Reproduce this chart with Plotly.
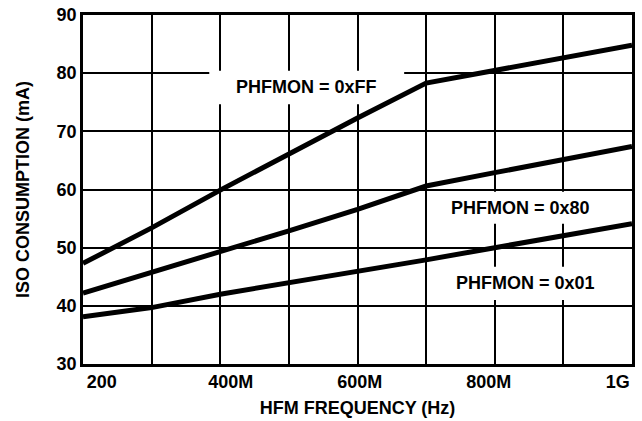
import plotly.graph_objects as go

# ---- data ----
freq_mhz = [200, 300, 400, 500, 600, 700, 800, 900, 1000]
iso_0xff = [47.3, 53.4, 59.9, 66.2, 72.3, 78.3, 80.5, 82.7, 84.8]
iso_0x80 = [42.2, 45.7, 49.4, 52.9, 56.6, 60.6, 62.9, 65.2, 67.4]
iso_0x01 = [38.1, 39.7, 42.0, 43.9, 45.9, 47.9, 50.0, 52.0, 54.1]

series_names = ["PHFMON = 0xFF", "PHFMON = 0x80", "PHFMON = 0x01"]
series_values = [iso_0xff, iso_0x80, iso_0x01]

x_tick_vals = [200, 400, 600, 800, 1000]
x_tick_text = ["200", "400M", "600M", "800M", "1G"]
y_tick_vals = [30, 40, 50, 60, 70, 80, 90]

FONT = "Liberation Sans, Arial, sans-serif"

fig = go.Figure()
for name, vals in zip(series_names, series_values):
    fig.add_trace(go.Scatter(
        x=freq_mhz, y=vals, mode="lines", name=name,
        line=dict(color="black", width=5),
        showlegend=False, hoverinfo="x+y",
    ))

# helper trace for the label axis
fig.add_trace(go.Scatter(x=[200, 1000], y=[None, None], xaxis="x2",
                         mode="lines", showlegend=False, hoverinfo="skip"))

# white boxes that interrupt the grid behind the series labels
boxes = [
    (384, 668, 74.65, 80.4),
    (720, 956, 54.1, 59.6),
    (720, 956, 41.0, 46.7),
]
shapes = [dict(type="rect", xref="x", yref="y", x0=a, x1=b, y0=c, y1=d,
               fillcolor="white", line=dict(width=0), layer="between")
          for a, b, c, d in boxes]

label_pos = [(526, 77.7), (838, 56.8), (845, 44.0)]
annotations = [dict(x=px, y=py, xref="x", yref="y", text=t, showarrow=False,
                    font=dict(family=FONT, size=18, color="black", weight="bold"))
               for t, (px, py) in zip(series_names, label_pos)]

fig.update_layout(
    width=642, height=421,
    margin=dict(l=83, r=10, t=15, b=57),
    paper_bgcolor="white", plot_bgcolor="white",
    font=dict(family=FONT, size=18, color="black", weight="bold"),
    shapes=shapes, annotations=annotations,
    xaxis=dict(
        range=[200, 1000], dtick=100, tick0=200, automargin=False,
        showgrid=True, gridcolor="black", gridwidth=2,
        showticklabels=False, ticks="", zeroline=False,
        showline=True, linecolor="black", linewidth=2.5, mirror=True,
        title=dict(text="HFM FREQUENCY (Hz)", standoff=36,
                   font=dict(family=FONT, size=18, weight="bold")),
    ),
    xaxis2=dict(
        overlaying="x", anchor="y", side="bottom", automargin=False,
        range=[171, 1022], tickvals=x_tick_vals, ticktext=x_tick_text,
        showgrid=False, zeroline=False, showline=False, ticks="",
        ticklabelstandoff=5, ticklabeloverflow="allow",
        tickfont=dict(family=FONT, size=18, weight="bold"),
    ),
    yaxis=dict(
        range=[30, 90], tickvals=y_tick_vals, automargin=False,
        showgrid=True, gridcolor="black", gridwidth=2,
        ticks="", zeroline=False, ticklabelstandoff=0,
        ticklabeloverflow="allow",
        showline=True, linecolor="black", linewidth=2.5, mirror=True,
        tickfont=dict(family=FONT, size=18, weight="bold"),
        title=dict(text="ISO CONSUMPTION (mA)", standoff=23,
                   font=dict(family=FONT, size=18, weight="bold")),
    ),
)

# remove the browser's default 8px page margin so the figure fills the window
fig.write_html("out.html",
               config={"displayModeBar": False},
               post_script="document.body.style.margin='0';document.body.style.overflow='hidden';")
